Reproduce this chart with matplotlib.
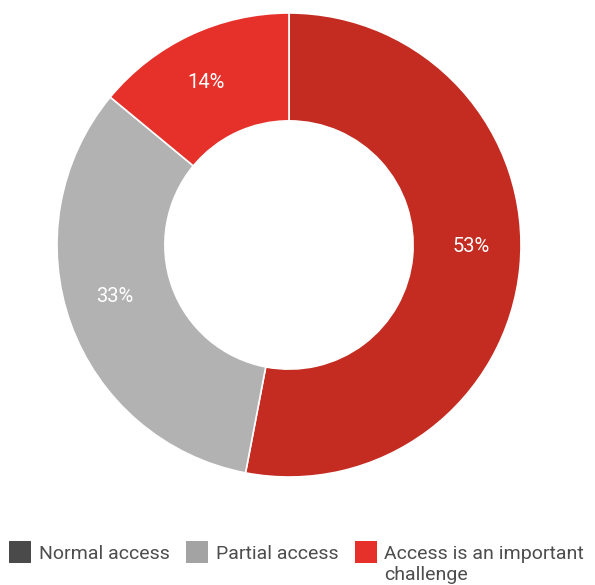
import matplotlib
matplotlib.use("Agg")
import numpy as np
import matplotlib.pyplot as plt
from matplotlib.patches import Rectangle

# Data
categories = ["Normal access", "Partial access", "Access is an important\nchallenge"]
values = [53, 33, 14]
slice_colors = ["#c42b21", "#b2b2b2", "#e6302a"]
legend_colors = ["#4a4a4a", "#a3a3a3", "#e6302a"]

plt.rcParams["font.family"] = ["Roboto", "DejaVu Sans"]

W, H = 595, 585
fig = plt.figure(figsize=(W / 100, H / 100), dpi=100)
cx, cy, r = 289, H - 245, 232
ax = fig.add_axes([(cx - r) / W, (cy - r) / H, 2 * r / W, 2 * r / H])

wedges, texts, autotexts = ax.pie(
    values, colors=slice_colors, startangle=90, counterclock=False,
    radius=1, autopct=lambda p: f"{round(p)}%", pctdistance=0.79,
    wedgeprops=dict(width=0.465, edgecolor="white", linewidth=1.2),
    textprops=dict(color="white", fontsize=14.5),
)
# nudge the label angles slightly to sit like the original
nudge = [5, -3.3, 1.8]
for w, t, d in zip(wedges, autotexts, nudge):
    ang = np.deg2rad((w.theta1 + w.theta2) / 2 + d)
    rr = 0.785
    t.set_position((rr * np.cos(ang), rr * np.sin(ang)))
ax.set_aspect("equal")
ax.set_xlim(-1, 1)
ax.set_ylim(-1, 1)

# manual legend, handles aligned with first text line
fig.canvas.draw()
renderer = fig.canvas.get_renderer()
sq = 22
x = 9
top = 541
baseline = 559
for lab, col in zip(categories, legend_colors):
    fig.patches.append(Rectangle((x / W, (H - top - sq) / H), sq / W, sq / H,
                                 transform=fig.transFigure, facecolor=col,
                                 edgecolor="none"))
    tx = x + sq + 8
    lines = lab.split("\n")
    widest = 0
    for i, line in enumerate(lines):
        t = fig.text(tx / W, (H - baseline - i * 21) / H, line, fontsize=14,
                     color="#4d4d4d", ha="left", va="baseline")
        widest = max(widest, t.get_window_extent(renderer).width)
    x = tx + widest + 16

plt.savefig("out.png", dpi=100)
